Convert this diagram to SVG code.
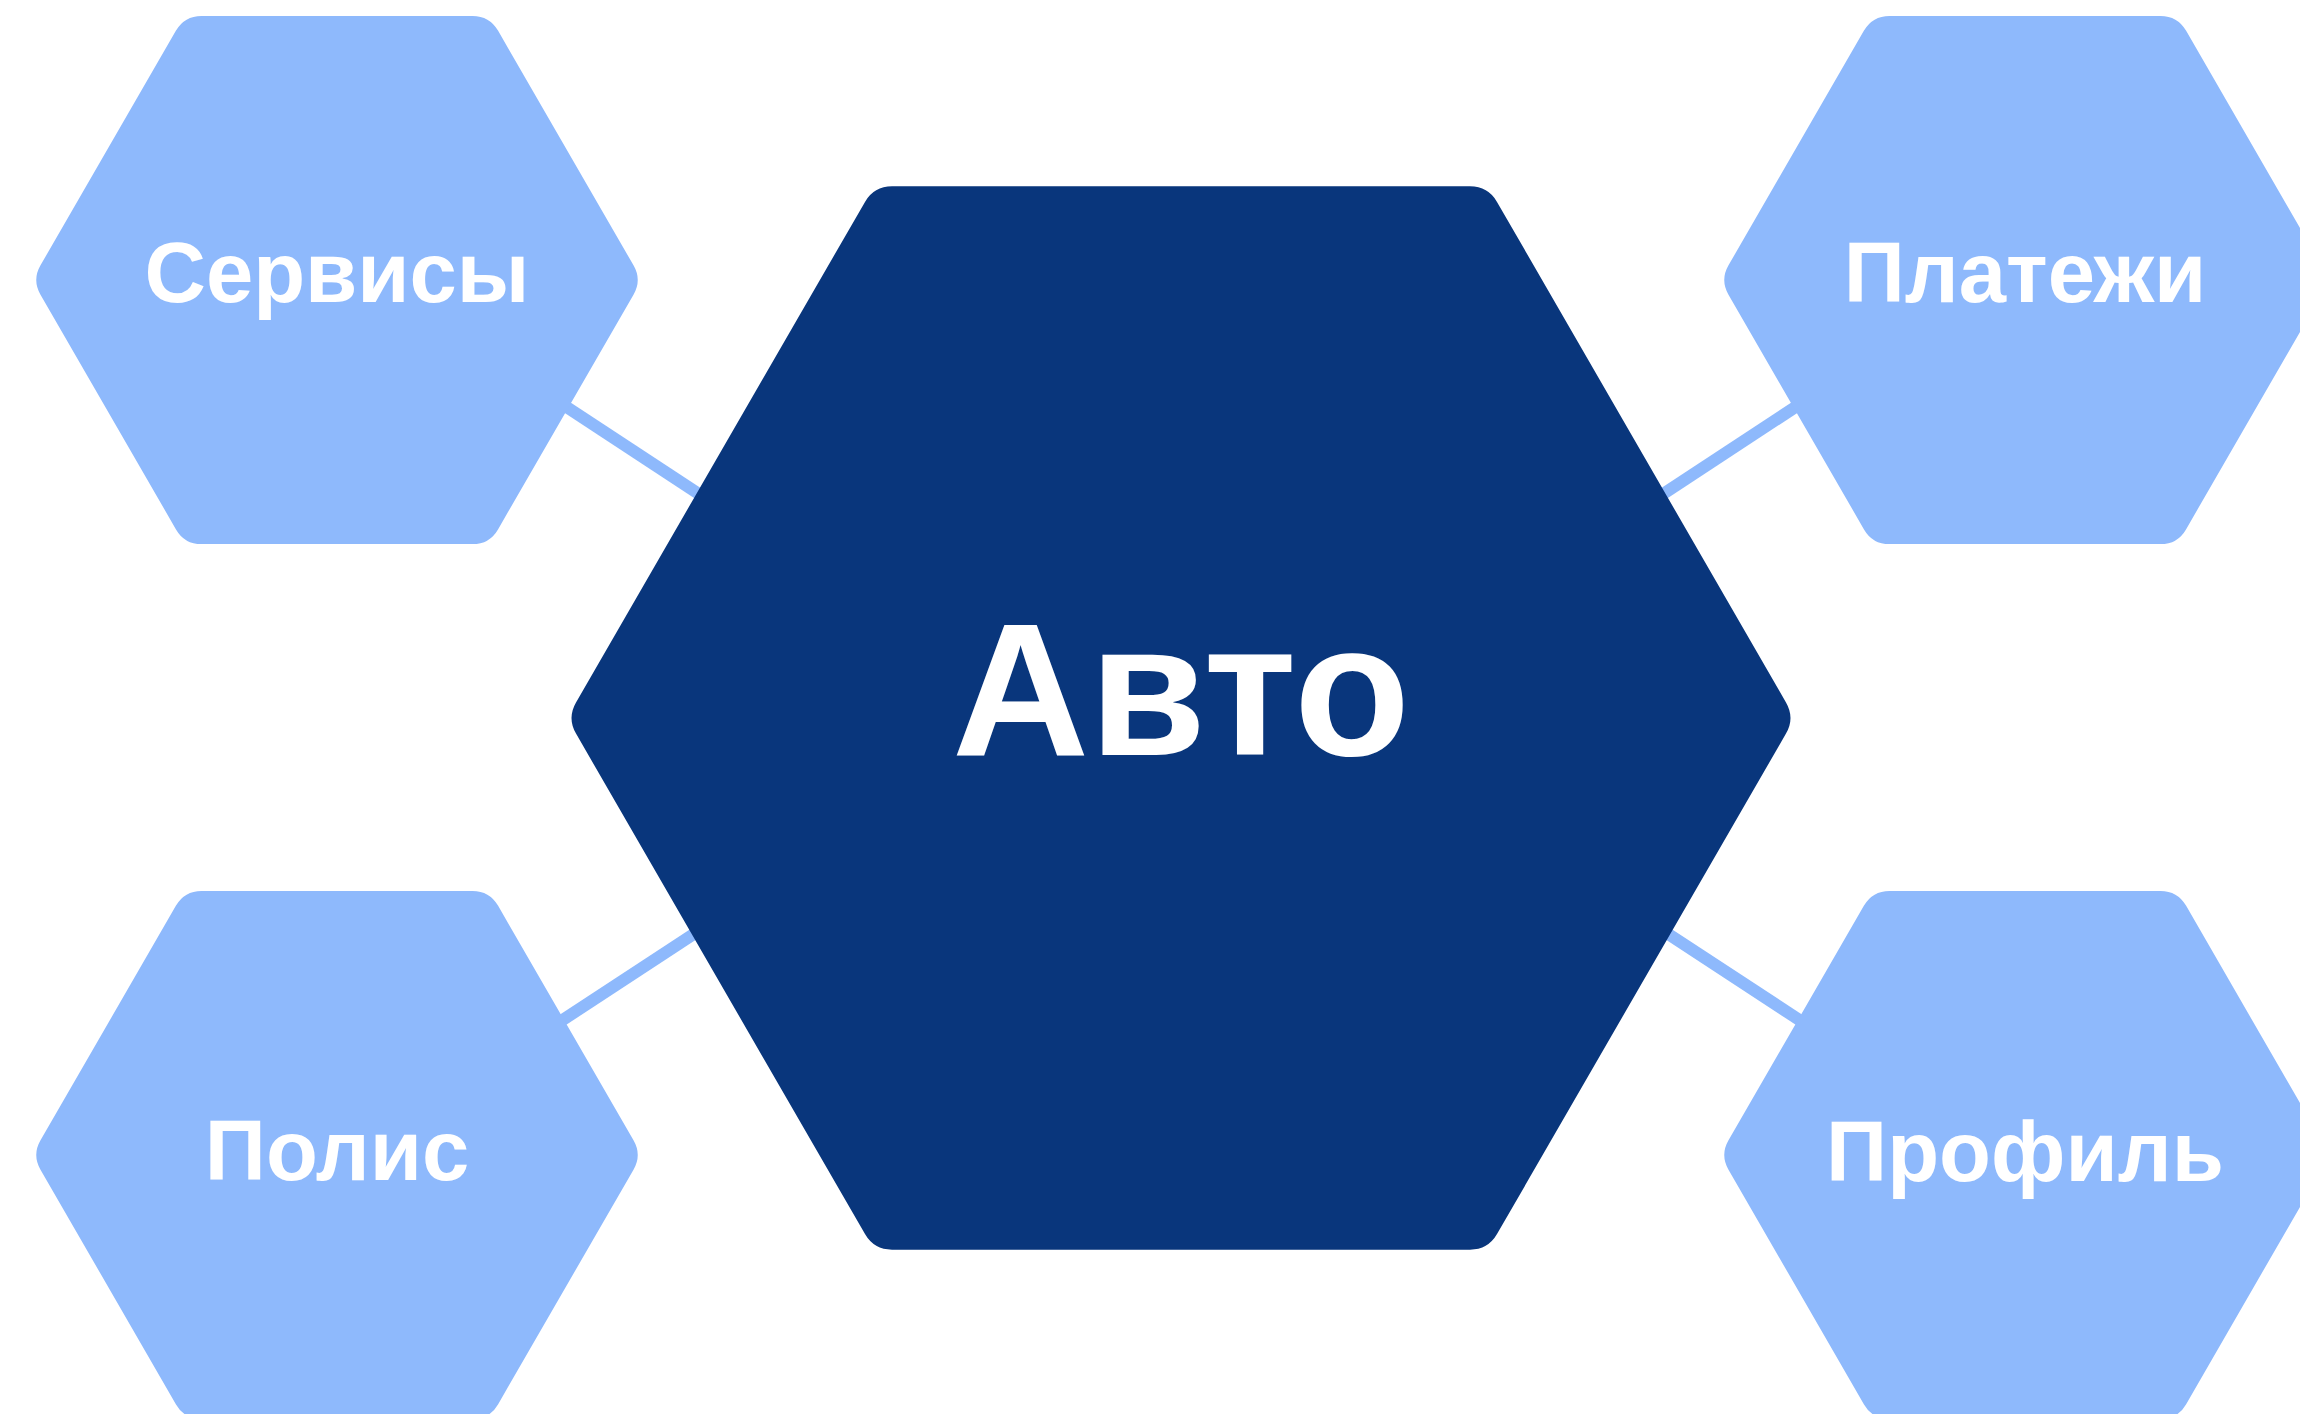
<svg xmlns="http://www.w3.org/2000/svg" width="2300" height="1414" viewBox="0 0 2300 1414">
<style>
.bg{fill:#ffffff}
.sat{fill:#8EB9FC}
.core{fill:#09367C}
.edge{stroke:#8EB9FC;stroke-width:12;fill:none}
.lbl{font-family:"Liberation Sans",Arial,sans-serif;font-weight:700;fill:#ffffff;text-anchor:middle}
.small{font-size:85px}
.big{font-size:190px}
</style>
<defs>
<path id="hexS" d="M -135.5,-264.1 L 135.5,-264.1 Q 152.5,-264.1 161,-249.4 L 296.5,-14.7 Q 305,0 296.5,14.7 L 161,249.4 Q 152.5,264.1 135.5,264.1 L -135.5,264.1 Q -152.5,264.1 -161,249.4 L -296.5,14.7 Q -305,0 -296.5,-14.7 L -161,-249.4 Q -152.5,-264.1 -135.5,-264.1 Z"/>
<path id="hexL" d="M -289,-531.7 L 289,-531.7 Q 307,-531.7 316,-516.1 L 605,-15.6 Q 614,0 605,15.6 L 316,516.1 Q 307,531.7 289,531.7 L -289,531.7 Q -307,531.7 -316,516.1 L -605,15.6 Q -614,0 -605,-15.6 L -316,-516.1 Q -307,-531.7 -289,-531.7 Z"/>
</defs>
<rect class="bg" x="0" y="0" width="2300" height="1414"/>
<g id="connectors">
<line class="edge" x1="530" y1="383" x2="740" y2="521"/>
<line class="edge" x1="1832" y1="383" x2="1622" y2="521"/>
<line class="edge" x1="526" y1="1044" x2="735" y2="907"/>
<line class="edge" x1="1836" y1="1044" x2="1627" y2="907"/>
</g>
<g id="node-avto">
<use href="#hexL" class="core" transform="translate(1181,718)"/>
<text class="lbl big" x="1181" y="755">Авто</text>
</g>
<g id="node-servisy">
<use href="#hexS" class="sat" transform="translate(337,280)"/>
<text class="lbl small" x="337" y="302">Сервисы</text>
</g>
<g id="node-platezhi">
<use href="#hexS" class="sat" transform="translate(2025,280)"/>
<text class="lbl small" x="2025" y="302">Платежи</text>
</g>
<g id="node-polis">
<use href="#hexS" class="sat" transform="translate(337,1155)"/>
<text class="lbl small" x="337" y="1180">Полис</text>
</g>
<g id="node-profil">
<use href="#hexS" class="sat" transform="translate(2025,1155)"/>
<text class="lbl small" x="2025" y="1181">Профиль</text>
</g>
</svg>
